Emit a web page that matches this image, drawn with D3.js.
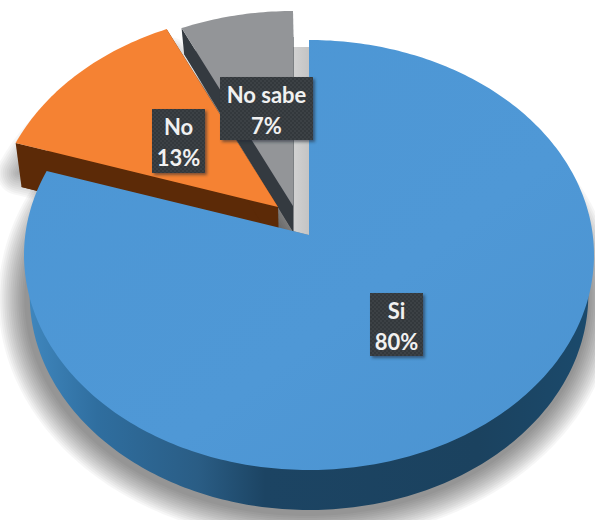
<!DOCTYPE html>
<html>
<head>
<meta charset="utf-8">
<script src="https://cdn.jsdelivr.net/npm/d3@7"></script>
<style>
html,body{margin:0;padding:0;background:#fff;overflow:hidden}
svg{display:block}
text{font-family:Lato,"Open Sans",sans-serif;font-weight:700}
</style>
</head>
<body>
<svg id="chart" width="595" height="520"></svg>
<script>
const categories = ["Si", "No", "No sabe"];
const values = [80, 13, 7];
const valueLabels = ["80%", "13%", "7%"];
const topColors = ["url(#blueTop)", "#f58233", "#939598"];
const sideColors = ["url(#blueSide)", "#5c2a07", "#343a40"];
const explodeOffsets = [[0, 0], [-31, -28], [-16, -29]];
const sideDepths = [40, 44, 26];
const labelBoxes = [[370, 293, 53, 63], [152, 109, 53, 64], [220, 77, 93, 63]];

const cx = 309, apexY = 235;
// Perspective of the tilted disc: the far half is foreshortened more than the near half.
const reachFar = 195, reachNear = 235, halfWidth = 285;
const A = 2 / (1 / reachFar + 1 / reachNear);
const k = A / reachFar - 1;
const R = halfWidth * Math.sqrt(1 - k * k);

function project(angle, r) {
  const u = r * Math.sin(angle), v = r * Math.cos(angle), w = 1 + k * v;
  return [cx + R * u / w, apexY - A * v / w];
}
const extrude = (p, depth) => [cx + (p[0] - cx) * 0.98, p[1] + depth];

const pie = d3.pie().sort(null).startAngle(0).endAngle(2 * Math.PI);
const slices = pie(values);

const line = d3.line().curve(d3.curveLinear);
function wedgePoints(s, off) {
  const n = Math.max(4, Math.ceil((s.endAngle - s.startAngle) * 60));
  const pts = [[cx + off[0], apexY + off[1]]];
  d3.range(n + 1).forEach(i => {
    const a = s.startAngle + (s.endAngle - s.startAngle) * i / n;
    const p = project(a, 1);
    pts.push([p[0] + off[0], p[1] + off[1]]);
  });
  return pts;
}

const svg = d3.select("#chart");
const defs = svg.append("defs");

const blueTop = defs.append("linearGradient").attr("id", "blueTop")
  .attr("x1", 0).attr("y1", 0).attr("x2", 1).attr("y2", 1);
blueTop.append("stop").attr("offset", "0%").attr("stop-color", "#4c96d4");
blueTop.append("stop").attr("offset", "60%").attr("stop-color", "#4f98d6");
blueTop.append("stop").attr("offset", "100%").attr("stop-color", "#4b93d0");

const blueSide = defs.append("linearGradient").attr("id", "blueSide")
  .attr("gradientUnits", "userSpaceOnUse")
  .attr("x1", 30).attr("y1", 0).attr("x2", 590).attr("y2", 0);
[[0, "#3f86bd"], [0.12, "#2f6e9f"], [0.3, "#2a5d85"], [0.42, "#1c4463"], [0.8, "#1b425f"], [1, "#1b4a6c"]]
  .forEach(d => blueSide.append("stop").attr("offset", d[0]).attr("stop-color", d[1]));

const wallFill = defs.append("linearGradient").attr("id", "wallFill")
  .attr("x1", 0).attr("y1", 0).attr("x2", 1).attr("y2", 0);
wallFill.append("stop").attr("offset", "0%").attr("stop-color", "#d2d2d2");
wallFill.append("stop").attr("offset", "100%").attr("stop-color", "#c4c4c4");

defs.append("filter").attr("id", "softBox")
  .attr("x", "-30%").attr("y", "-30%").attr("width", "160%").attr("height", "160%")
  .append("feGaussianBlur").attr("stdDeviation", 1.6);

const dots = defs.append("pattern").attr("id", "dots").attr("patternUnits", "userSpaceOnUse")
  .attr("width", 4).attr("height", 4);
dots.append("rect").attr("width", 4).attr("height", 4).attr("fill", "#33383c");
dots.append("circle").attr("cx", 1).attr("cy", 1).attr("r", 0.7).attr("fill", "#4a4f53");
dots.append("circle").attr("cx", 3).attr("cy", 3).attr("r", 0.7).attr("fill", "#4a4f53");

// Soft ground shadow built from stacked translucent outlines of decreasing width
function softShadow(points, spread, strength) {
  const d = line(points) + "Z";
  d3.range(spread, 0, -4).forEach(w => {
    svg.append("path").attr("class", "shadow").attr("d", d)
      .attr("fill", "#000").attr("stroke", "#000").attr("stroke-width", w)
      .attr("stroke-linejoin", "round").attr("opacity", strength);
  });
}
const outline = wedgePoints({startAngle: 0, endAngle: 2 * Math.PI}, [0, 0]).slice(1);
softShadow(outline.map(p => [cx - 2 + (p[0] - cx) * 0.985, p[1] + 44]), 56, 0.03);
softShadow(wedgePoints(slices[1], explodeOffsets[1]).map(p => [p[0] + 3, p[1] + sideDepths[1] - 14]), 44, 0.028);

// Pale wall behind the gap left by the grey wedge
const greyPts = wedgePoints(slices[2], explodeOffsets[2]);
const greyCorner = greyPts[greyPts.length - 1];
const wallTop = project(0, 1)[1] + 7;
svg.append("path").attr("fill", "url(#wallFill)")
  .attr("d", line([[greyCorner[0], wallTop], [cx, wallTop], [cx, apexY], [greyCorner[0], apexY - 4]]) + "Z");

// Wedges drawn back to front: grey, orange, then the large blue one
[2, 1, 0].forEach(i => {
  const s = slices[i], off = explodeOffsets[i], depth = sideDepths[i];
  const pts = wedgePoints(s, off);
  const g = svg.append("g").attr("class", "slice").datum(categories[i]);
  g.append("path").attr("fill", sideColors[i]).attr("d", line(pts.map(p => extrude(p, depth))) + "Z");
  if (i !== 0) {
    [[pts[0], pts[1]], [pts[0], pts[pts.length - 1]]].forEach(e => {
      g.append("path").attr("fill", sideColors[i])
        .attr("d", line([e[0], e[1], extrude(e[1], depth), extrude(e[0], depth)]) + "Z");
    });
  }
  g.append("path").attr("fill", topColors[i]).attr("d", line(pts) + "Z");
});

// Value callouts
categories.forEach((c, i) => {
  const [x, y, w, h] = labelBoxes[i];
  const g = svg.append("g").attr("class", "label");
  g.append("rect").attr("x", x + 2).attr("y", y + 2).attr("width", w).attr("height", h)
    .attr("fill", "#1a2530").attr("opacity", 0.55).attr("filter", "url(#softBox)");
  g.append("rect").attr("x", x).attr("y", y).attr("width", w).attr("height", h).attr("fill", "url(#dots)");
  g.append("text").attr("x", x + w / 2).attr("y", y + 26).attr("text-anchor", "middle")
    .attr("font-size", 22).attr("fill", "#f1f1f1").text(c);
  g.append("text").attr("x", x + w / 2).attr("y", y + 57).attr("text-anchor", "middle")
    .attr("font-size", 22).attr("fill", "#f1f1f1").text(valueLabels[i]);
});
</script>
</body>
</html>
